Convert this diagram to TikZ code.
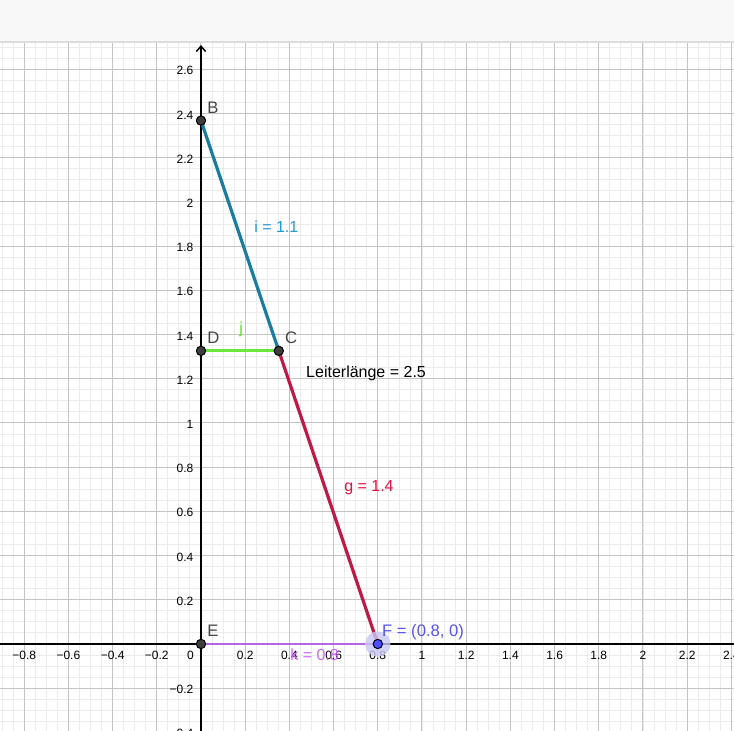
\documentclass[tikz,border=0pt]{standalone}
\usepackage{fontspec}
\setmainfont{Liberation Sans}
\usetikzlibrary{positioning,arrows.meta}
\definecolor{gridminor}{HTML}{EBEBEB}
\definecolor{gridmajor}{HTML}{C4C4C4}
\definecolor{barfill}{HTML}{F8F8F8}
\definecolor{barline}{HTML}{DCDCDC}
\definecolor{ptgrey}{HTML}{444444}
\definecolor{dotgrey}{HTML}{3D3D3D}
\definecolor{segi}{HTML}{1A7C9E}
\definecolor{labi}{HTML}{1E9AD2}
\definecolor{segg}{HTML}{BE1A45}
\definecolor{labg}{HTML}{E01040}
\definecolor{segj}{HTML}{6BE83C}
\definecolor{labj}{HTML}{66DD33}
\definecolor{segk}{HTML}{B566E0}
\definecolor{labk}{HTML}{CC66FF}
\definecolor{ptF}{HTML}{4D4DFF}
\definecolor{haloF}{HTML}{C8C8F5}
\definecolor{labF}{HTML}{5555EE}
\begin{document}
\begin{tikzpicture}[x=165.75pt,y=165.75pt,
    minorgrid/.style={draw=gridminor,line width=0.75pt},
    majorgrid/.style={draw=gridmajor,line width=0.75pt},
    axis/.style={line width=1.1pt},
    ticklabel/.style={font=\fontsize{9}{9}\selectfont,inner sep=0pt},
    ptlabel/.style={font=\fontsize{12.5}{12.5}\selectfont,inner sep=0pt,text=ptgrey},
    vallabel/.style={font=\fontsize{12}{12}\selectfont,inner sep=0pt,anchor=base west},
    dot/.style={circle,draw=black,fill=dotgrey,line width=0.75pt,minimum size=7pt,inner sep=0pt},
    seg/.style={line width=2.4pt}]
    \useasboundingbox (-0.9095,-0.3937) rectangle (2.4118,2.914);
    % grid and toolbar
    \draw[minorgrid,step=0.05] (-0.9095,-0.3937) grid (2.4118,2.724);
    \draw[majorgrid,step=0.2] (-0.9095,-0.3937) grid (2.4118,2.724);
    \fill[barfill] (-0.9095,2.724) rectangle (2.4118,2.914);
    \draw[barline,line width=1.1pt] (-0.9095,2.724) -- (2.4118,2.724);
    % axes
    \coordinate (xmin) at (-0.9095,0);
    \coordinate (xmax) at (2.4118,0);
    \coordinate (ymin) at (0,-0.3937);
    \coordinate (ymax) at (0,2.710);
    \draw[axis] (xmin) -- (xmax);
    \draw[axis,-{Straight Barb[length=4pt,width=7pt]}] (ymin) -- (ymax);
    \foreach \xv/\txt [count=\n] in {-0.8/−0.8,-0.6/−0.6,-0.4/−0.4,-0.2/−0.2,
        0.2/0.2,0.4/0.4,0.6/0.6,0.8/0.8,1/1,1.2/1.2,1.4/1.4,1.6/1.6,
        1.8/1.8,2/2,2.2/2.2,2.4/2.4}
        \node[ticklabel,anchor=base] (xt\n) at ([yshift=-12pt]\xv,0) {\txt};
    \node[ticklabel,anchor=base] (xt0) at ([yshift=-12pt]-0.0475,0) {0};
    \foreach \yv/\txt [count=\n] in {-0.4/−0.4,-0.2/−0.2,0.2/0.2,0.4/0.4,
        0.6/0.6,0.8/0.8,1/1,1.2/1.2,1.4/1.4,1.6/1.6,1.8/1.8,2/2,2.2/2.2,
        2.4/2.4,2.6/2.6}
        \node[ticklabel,anchor=base east] (yt\n) at ([xshift=-5.6pt,yshift=-4.2pt]0,\yv) {\txt};
    % ladder points
    \coordinate (B) at (0,2.3685);
    \coordinate (C) at (0.352,1.3264);
    \coordinate (D) at (0,1.3264);
    \coordinate (E) at (0,0);
    \coordinate (F) at (0.8,0);
    \draw[seg,segk,line width=1.8pt] (E) -- (F);
    \draw[seg,segj] (D) -- (C);
    \draw[seg,segi] (B) -- (C);
    \draw[seg,segg] (C) -- (F);
    \node[dot] (dotB) at (B) {};
    \node[dot] (dotC) at (C) {};
    \node[dot] (dotD) at (D) {};
    \node[dot] (dotE) at (E) {};
    \node[circle,fill=haloF,fill opacity=0.8,minimum size=19pt,inner sep=0pt] (Fhalo) at (F) {};
    \node[dot,fill=ptF] (dotF) at (F) {};
    \node[ptlabel,above right=5.4pt and 4.5pt of B,anchor=base west] (labB) {B};
    \node[ptlabel,above right=5.4pt and 4.5pt of C,anchor=base west] (labC) {C};
    \node[ptlabel,above right=5.4pt and 4.5pt of D,anchor=base west] (labD) {D};
    \node[ptlabel,above right=5.4pt and 4.5pt of E,anchor=base west] (labE) {E};
    \node[ptlabel,text=labF,above right=5.4pt and 3pt of F,anchor=base west] (labF) {F = (0.8, 0)};
    % values
    \node[vallabel,text=labi] (vali) at (0.240,1.864) {i = 1.1};
    \node[vallabel,text=labj] (valj) at (0.172,1.403) {j};
    \node[vallabel] (valL) at (0.475,1.208) {Leiterlänge = 2.5};
    \node[vallabel,text=labg] (valg) at (0.647,0.688) {g = 1.4};
    \node[vallabel,text=labk] (valk) at (0.403,-0.077) {k = 0.8};
\end{tikzpicture}
\end{document}
